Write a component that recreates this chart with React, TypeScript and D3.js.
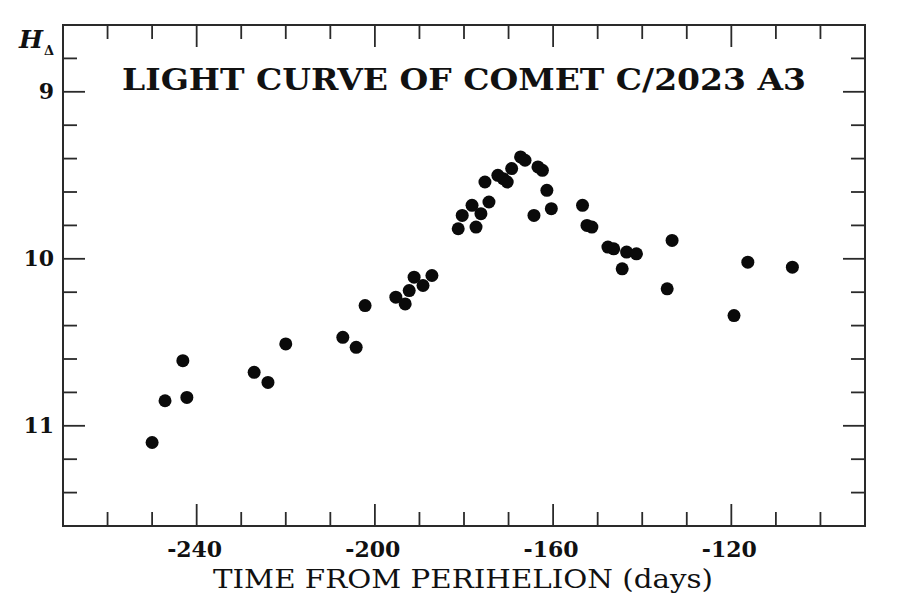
import React from "react";
import * as d3 from "d3";

const days = [
  -250.0, -247.1, -243.1, -242.2, -227.1, -224.0, -220.0, -207.2, -204.2, -202.2,
  -195.3, -193.2, -192.3, -191.2, -189.2, -187.2, -181.3, -180.4, -178.2, -177.3,
  -176.2, -175.3, -174.4, -172.4, -171.2, -170.3, -169.3, -167.3, -166.3, -164.3,
  -163.4, -162.4, -161.4, -160.4, -153.4, -152.4, -151.3, -147.7, -146.4, -144.5,
  -143.5, -141.3, -134.4, -133.3, -119.4, -116.3, -106.3,
];
const mags = [
  11.1, 10.85, 10.61, 10.83, 10.68, 10.74, 10.51, 10.47, 10.53, 10.28,
  10.23, 10.27, 10.19, 10.11, 10.16, 10.1, 9.82, 9.74, 9.68, 9.81,
  9.73, 9.54, 9.66, 9.5, 9.52, 9.54, 9.46, 9.39, 9.41, 9.74,
  9.45, 9.47, 9.59, 9.7, 9.68, 9.8, 9.81, 9.93, 9.94, 10.06,
  9.96, 9.97, 10.18, 9.89, 10.34, 10.02, 10.05,
];
const xMajorTicks = [-240, -200, -160, -120];
const xMinorTicks = [-260, -250, -230, -220, -210, -190, -180, -170, -150, -140, -130, -110, -100];
const yMajorTicks = [9, 10, 11];
const yMinorTicks = [8.8, 9.2, 9.4, 9.6, 9.8, 10.2, 10.4, 10.6, 10.8, 11.2, 11.4];

const W = 900;
const H = 600;
const L = 63, R = 865, T = 25, B = 526;

export default function App() {
  const x = d3.scaleLinear().domain([-270, -90]).range([L, R]);
  const y = d3.scaleLinear().domain([8.6, 11.6]).range([T, B]);
  const stroke = "#2a2a2a";
  const font = "'DejaVu Serif', serif";
  const minor = 14, major = 22;
  return (
    <svg width={W} height={H} style={{ position: "absolute", left: 0, top: 0, background: "#fff" }}>
      <rect x={0} y={0} width={W} height={H} fill="#fff" />
      <rect x={L} y={T} width={R - L} height={B - T} fill="none" stroke={stroke} strokeWidth={2} />
      {xMinorTicks.map((t) => (
        <g key={"xm" + t}>
          <line x1={x(t)} x2={x(t)} y1={B} y2={B - minor} stroke={stroke} strokeWidth={1.8} />
          <line x1={x(t)} x2={x(t)} y1={T} y2={T + minor} stroke={stroke} strokeWidth={1.8} />
        </g>
      ))}
      {xMajorTicks.map((t) => (
        <g key={"xM" + t}>
          <line x1={x(t)} x2={x(t)} y1={B} y2={B - major} stroke={stroke} strokeWidth={1.8} />
          <line x1={x(t)} x2={x(t)} y1={T} y2={T + major} stroke={stroke} strokeWidth={1.8} />
          <text x={x(t) - 2} y={557} textAnchor="middle" fontFamily={font} fontWeight="bold" fontSize={22} fill="#111">
            {t}
          </text>
        </g>
      ))}
      {yMinorTicks.map((t) => (
        <g key={"ym" + t}>
          <line x1={L} x2={L + minor} y1={y(t)} y2={y(t)} stroke={stroke} strokeWidth={1.8} />
          <line x1={R} x2={R - minor} y1={y(t)} y2={y(t)} stroke={stroke} strokeWidth={1.8} />
        </g>
      ))}
      {yMajorTicks.map((t) => (
        <g key={"yM" + t}>
          <line x1={L} x2={L + major} y1={y(t)} y2={y(t)} stroke={stroke} strokeWidth={1.8} />
          <line x1={R} x2={R - major} y1={y(t)} y2={y(t)} stroke={stroke} strokeWidth={1.8} />
          <text x={54} y={y(t) + 7} textAnchor="end" fontFamily={font} fontWeight="bold" fontSize={22} fill="#111">
            {t}
          </text>
        </g>
      ))}
      {days.map((d, i) => (
        <circle key={i} cx={x(d)} cy={y(mags[i])} r={6.5} fill="#0a0a0a" />
      ))}
      <text x={122} y={90} fontFamily={font} fontWeight="bold" fontSize={30} fill="#111" textLength={684} lengthAdjust="spacingAndGlyphs">
        LIGHT CURVE OF COMET C/2023 A3
      </text>
      <text x={213} y={588} fontFamily={font} fontSize={26} fill="#111" textLength={500} lengthAdjust="spacingAndGlyphs">
        TIME FROM PERIHELION (days)
      </text>
      <text x={19} y={48} fontFamily={font} fontWeight="bold" fontStyle="italic" fontSize={25} fill="#111" textLength={24} lengthAdjust="spacingAndGlyphs">
        H
      </text>
      <text x={44} y={55} fontFamily={font} fontWeight="bold" fontSize={13} fill="#111">
        Δ
      </text>
    </svg>
  );
}
